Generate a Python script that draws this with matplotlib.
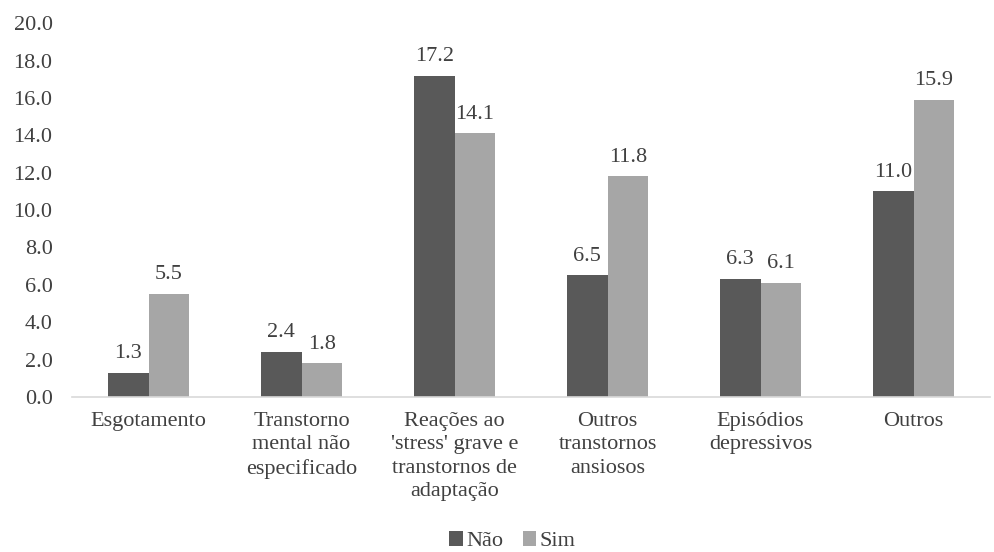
import numpy as np
import matplotlib.pyplot as plt

plt.rcParams["font.family"] = ["Liberation Serif", "DejaVu Serif"]

categories = [
    "Esgotamento",
    "Transtorno\nmental não\nespecificado",
    "Reações ao\n'stress' grave e\ntranstornos de\nadaptação",
    "Outros\ntranstornos\nansiosos",
    "Episódios\ndepressivos",
    "Outros",
]
nao = [1.3, 2.4, 17.2, 6.5, 6.3, 11.0]
sim = [5.5, 1.8, 14.1, 11.8, 6.1, 15.9]

text_color = "#404040"
fs = 16
fig = plt.figure(figsize=(9.95, 5.52), dpi=100)
ax = fig.add_axes([0.0724, 0.281, 0.9226, 0.677])

x = np.arange(len(categories))
w = 0.265
b1 = ax.bar(x - w / 2, nao, w, color="#595959", label="Não")
b2 = ax.bar(x + w / 2, sim, w, color="#a6a6a6", label="Sim")

for bars in (b1, b2):
    ax.bar_label(bars, fmt="%.1f", padding=7, fontsize=fs, color=text_color)

ax.set_xlim(-0.5, len(categories) - 0.5)
ax.set_ylim(0, 20)
ax.set_yticks(np.arange(0, 21, 2))
ax.set_yticklabels([f"{v:.1f}" for v in np.arange(0, 21, 2)], fontsize=fs, color=text_color)
ax.set_xticks(x)
ax.set_xticklabels(categories, fontsize=fs, color=text_color, linespacing=1.3)
ax.tick_params(length=0)
ax.tick_params(axis="x", pad=11)
ax.tick_params(axis="y", pad=14)

for s in ["top", "right", "left"]:
    ax.spines[s].set_visible(False)
ax.spines["bottom"].set_color("#d9d9d9")
ax.spines["bottom"].set_linewidth(1.2)

fig.legend(loc="lower center", bbox_to_anchor=(0.515, -0.035), ncol=2, frameon=False,
           fontsize=fs, handlelength=0.6, handleheight=0.6, handletextpad=0.15,
           columnspacing=0.9, labelcolor=text_color)

plt.savefig("out.png", dpi=100)
